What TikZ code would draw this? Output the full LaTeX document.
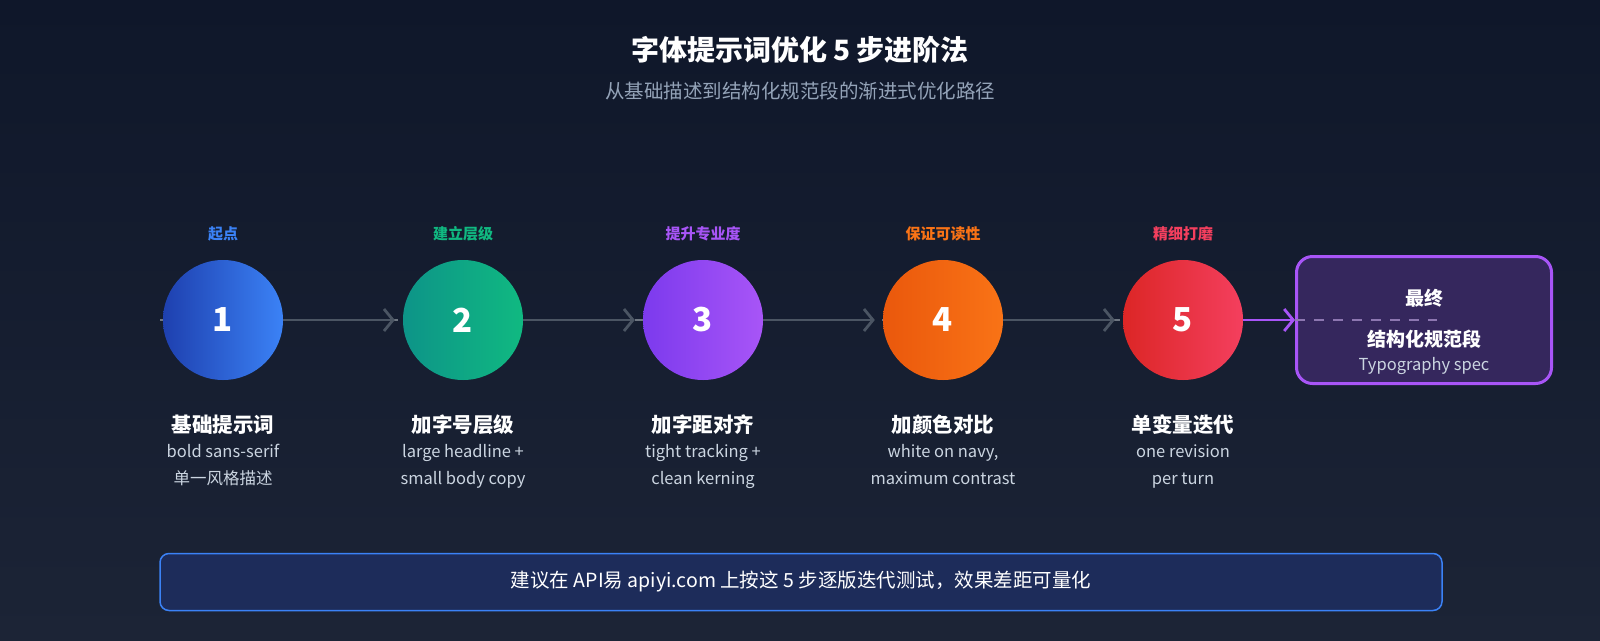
\documentclass[tikz,border=0pt]{standalone}
\usepackage{fontspec}
\setmainfont{Noto Sans CJK SC}
\usetikzlibrary{positioning,arrows.meta}
\definecolor{bgtop}{RGB}{15,23,42}
\definecolor{bgbot}{RGB}{28,36,54}
\definecolor{linegray}{RGB}{75,85,99}
\definecolor{subgray}{RGB}{148,163,184}
\definecolor{descgray}{RGB}{203,213,225}
\definecolor{mypurple}{RGB}{168,85,247}
\definecolor{myblueA}{RGB}{30,64,175}
\definecolor{myblueB}{RGB}{59,130,246}
\definecolor{mygreenA}{RGB}{13,148,136}
\definecolor{mygreenB}{RGB}{16,185,129}
\definecolor{mypurpleA}{RGB}{124,58,237}
\definecolor{mypurpleB}{RGB}{168,85,247}
\definecolor{myorangeA}{RGB}{234,88,12}
\definecolor{myorangeB}{RGB}{249,115,22}
\definecolor{myredA}{RGB}{220,38,38}
\definecolor{myredB}{RGB}{244,63,94}
\definecolor{stepblue}{RGB}{59,130,246}
\definecolor{stepgreen}{RGB}{16,185,129}
\definecolor{steppurple}{RGB}{168,85,247}
\definecolor{steporange}{RGB}{249,115,22}
\definecolor{stepred}{RGB}{244,63,94}
\begin{document}
\begin{tikzpicture}[x=1pt, y=-1pt,
    stage/.style={circle, minimum size=120pt, inner sep=0pt, text=white, font=\fontsize{33}{33}\selectfont\bfseries},
    tag/.style={font=\fontsize{15}{15}\selectfont\bfseries},
    stagename/.style={text=white, font=\fontsize{20.5}{20.5}\selectfont\bfseries},
    desc/.style={text=descgray, align=center, font=\fontsize{16.5}{27}\selectfont},
    arrow/.style={-{Straight Barb[length=9pt,width=22pt]}, line width=2.8pt, draw=linegray, shorten >=8pt}
]
\shade[top color=bgtop, bottom color=bgbot] (0,0) rectangle (1600,640);
\useasboundingbox (0,0) rectangle (1600,640);

% Title
\node[text=white, font=\fontsize{28}{28}\selectfont\bfseries] (title) at (800,50) {字体提示词优化 5 步进阶法};
\node[text=subgray, font=\fontsize{19.5}{19.5}\selectfont] (subtitle) at (800,91) {从基础描述到结构化规范段的渐进式优化路径};

% Axis
\coordinate (axisL) at (160,320);
\coordinate (axisR) at (1437,320);
\draw[linegray!80, line width=2.5pt, dash pattern=on 10pt off 9pt] (axisL) -- (axisR);

% Final box
\node[draw=mypurple, line width=3pt, fill=mypurple!25!bgtop, rounded corners=16pt,
      minimum width=255pt, minimum height=127pt] (final) at (1424,320) {};
\draw[linegray!60!mypurple!80!white, line width=2.5pt, dash pattern=on 10pt off 9pt] (final.west) -- (axisR);
\node[stagename, font=\fontsize{19}{19}\selectfont\bfseries] (finalA) at (1424,298) {最终};
\node[stagename, font=\fontsize{19}{19}\selectfont\bfseries] (finalB) at (1424,339) {结构化规范段};
\node[text=descgray, font=\fontsize{16.5}{16.5}\selectfont] (finalC) at (1424,366) {Typography spec};

% Stages
\foreach \i/\x/\ca/\cb/\tc/\tg/\nm/\ds in {
    1/223/myblueA/myblueB/stepblue/起点/基础提示词/{bold sans-serif\\单一风格描述},
    2/463/mygreenA/mygreenB/stepgreen/建立层级/加字号层级/{large headline +\\small body copy},
    3/703/mypurpleA/mypurpleB/steppurple/提升专业度/加字距对齐/{tight tracking +\\clean kerning},
    4/943/myorangeA/myorangeB/steporange/保证可读性/加颜色对比/{white on navy,\\maximum contrast},
    5/1183/myredA/myredB/stepred/精细打磨/单变量迭代/{one revision\\per turn}} {
  \node[stage, left color=\ca, right color=\cb] (s\i) at (\x,320) {\i};
  \node[tag, text=\tc, above=15pt of s\i] (t\i) {\tg};
  \node[stagename, below=31pt of s\i] (n\i) {\nm};
  \node[desc, below=3pt of n\i] (d\i) {\ds};
}

% Arrows
\foreach \a/\b in {1/2,2/3,3/4,4/5}
  \draw[arrow] (s\a) -- (s\b);
\draw[arrow, draw=mypurple, shorten >=0pt] (s5) -- (final.west);

% Footer note
\node[draw=myblueB, line width=1.5pt, fill=myblueA!30!bgbot, rounded corners=9pt,
      minimum width=1282pt, minimum height=57pt, text=white, font=\fontsize{19.5}{19.5}\selectfont] (note) at (801,582)
      {建议在 API易 apiyi.com 上按这 5 步逐版迭代测试，效果差距可量化};
\end{tikzpicture}
\end{document}
